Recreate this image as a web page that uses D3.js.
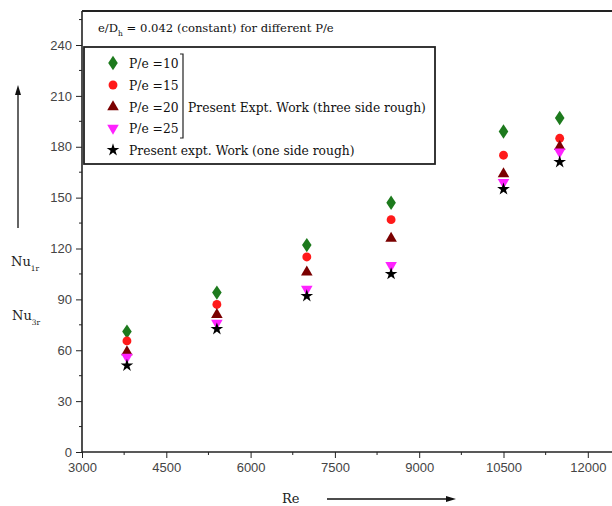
<!DOCTYPE html>
<html><head><meta charset="utf-8">
<script src="https://cdn.jsdelivr.net/npm/d3@7"></script>
<style>body{margin:0;background:#fff}svg{display:block}
.serif{font-family:'DejaVu Serif','Liberation Serif',serif}
.sans{font-family:'Liberation Sans',Arial,sans-serif}</style>
</head><body>
<svg id="c" width="612" height="506"></svg>
<script>
const reValues = [3800, 5400, 7000, 8500, 10500, 11500];
const nuPe10 = [71, 94, 122, 147, 189, 197];
const nuPe15 = [65.5, 87, 115, 137, 175, 185];
const nuPe20 = [59, 81, 106, 126, 164, 180];
const nuPe25 = [56, 76, 96, 110, 159, 177];
const nuOneSide = [51, 72.5, 92, 105, 155, 171];
const xTicks = [3000, 4500, 6000, 7500, 9000, 10500, 12000];
const yTicks = [0, 30, 60, 90, 120, 150, 180, 210, 240];
const seriesNames = ["P/e =10", "P/e =15", "P/e =20", "P/e =25", "Present expt. Work (one side rough)"];

(function () {
const series = [
  {name: seriesNames[0], vals: nuPe10, color: "#1d7a1d", sym: "diamond"},
  {name: seriesNames[1], vals: nuPe15, color: "#ff1a1a", sym: "circle"},
  {name: seriesNames[2], vals: nuPe20, color: "#7a0000", sym: "up"},
  {name: seriesNames[3], vals: nuPe25, color: "#ff22ff", sym: "down"},
  {name: seriesNames[4], vals: nuOneSide, color: "#000000", sym: "star"}
];

const svg = d3.select("#c");
const pl = 82, pt = 11, pb = 452;
const x = d3.scaleLinear().domain([3000, 12500]).range([pl, pl + 9500 / 1500 * 84.3]);
const y = d3.scaleLinear().domain([0, 260]).range([pb, pb - 260 * 407 / 240]);

function symPath(s) {
  const m = {
    diamond: d3.symbol(d3.symbolDiamond, 60),
    circle: d3.symbol(d3.symbolCircle, 62),
    up: d3.symbol(d3.symbolTriangle, 58),
    down: d3.symbol(d3.symbolTriangle, 58),
    star: d3.symbol(d3.symbolStar, 50)
  };
  return m[s]();
}
function drawSym(g, s, cx, cy, color) {
  g.append("path").attr("d", symPath(s))
    .attr("transform", `translate(${cx},${cy})` + (s === "down" ? " rotate(180)" : "") + (s === "diamond" ? " scale(1.15,1)" : ""))
    .attr("fill", color);
}

// frame
svg.append("line").attr("x1", pl).attr("x2", 612).attr("y1", pt).attr("y2", pt).attr("stroke", "#222").attr("stroke-width", 2);

// axes
const xAxis = d3.axisBottom(x).tickValues(xTicks).tickSize(6).tickPadding(5).tickFormat(d3.format("d"));
const gx = svg.append("g").attr("transform", `translate(0,${pb})`).call(xAxis);
const xMinor = d3.range(3750, 12500, 1500);
gx.selectAll(".minor").data(xMinor).enter().append("line").attr("class", "minor").attr("x1", d => x(d)).attr("x2", d => x(d)).attr("y1", 0).attr("y2", 3).attr("stroke", "#222");
const yAxis = d3.axisLeft(y).tickValues(yTicks).tickSize(6).tickPadding(4);
const gy = svg.append("g").attr("transform", `translate(${pl},0)`).call(yAxis);
const yMinor = d3.range(15, 260, 30);
gy.selectAll(".minor").data(yMinor).enter().append("line").attr("class", "minor").attr("y1", d => y(d)).attr("y2", d => y(d)).attr("x1", 0).attr("x2", -3).attr("stroke", "#222");
[gx, gy].forEach(g => {
  g.attr("font-family", null);
  g.select(".domain").attr("stroke", "#222").attr("stroke-width", 1.6);
  g.selectAll(".tick line").attr("stroke", "#222");
  g.selectAll("text").attr("class", "sans").attr("font-size", 13).attr("fill", "#444");
});
gy.select(".domain").attr("d", `M0,${pb}V${pt}`);
gx.select(".domain").attr("d", `M${pl},0H612`);

// points
const gp = svg.append("g");
series.forEach(s => {
  s.vals.forEach((v, i) => drawSym(gp, s.sym, x(reValues[i]), y(v), s.color));
});

// title
const title = svg.append("text").attr("class", "serif").attr("x", 98).attr("y", 32).attr("font-size", 11.6).attr("fill", "#111");
title.append("tspan").text("e/D");
title.append("tspan").attr("font-size", 7.5).attr("dy", 4).text("h");
title.append("tspan").attr("dy", -4).text(" = 0.042 (constant) for different P/e");

// legend
svg.append("rect").attr("x", 84).attr("y", 47).attr("width", 351).attr("height", 117).attr("fill", "none").attr("stroke", "#222").attr("stroke-width", 1.8);
const rowsY = [63, 85, 107, 128, 150];
series.forEach((s, i) => {
  drawSym(svg, s.sym, 113, rowsY[i], s.color);
  svg.append("text").attr("class", "serif").attr("x", 129).attr("y", rowsY[i] + 4.5).attr("font-size", 12.3).attr("fill", "#111").text(s.name);
});
svg.append("path").attr("d", "M180,54H183V138H180").attr("fill", "none").attr("stroke", "#222").attr("stroke-width", 1.2);
svg.append("text").attr("class", "serif").attr("x", 188).attr("y", 111.5).attr("font-size", 12.3).attr("fill", "#111").text("Present Expt. Work (three side rough)");

// y label
const yl1 = svg.append("text").attr("class", "serif").attr("x", 11).attr("y", 266).attr("font-size", 13).attr("fill", "#222");
yl1.append("tspan").text("Nu");
yl1.append("tspan").attr("font-size", 7.5).attr("dy", 5).text("1r");
const yl2 = svg.append("text").attr("class", "serif").attr("x", 12).attr("y", 320).attr("font-size", 13).attr("fill", "#222");
yl2.append("tspan").text("Nu");
yl2.append("tspan").attr("font-size", 7.5).attr("dy", 5).text("3r");
svg.append("line").attr("x1", 18).attr("x2", 18).attr("y1", 228).attr("y2", 92).attr("stroke", "#111").attr("stroke-width", 1.3);
svg.append("path").attr("d", "M18,85L15,95L21,95Z").attr("fill", "#111");

// x label
svg.append("text").attr("class", "serif").attr("x", 282).attr("y", 503).attr("font-size", 13).attr("fill", "#222").text("Re");
svg.append("line").attr("x1", 327).attr("x2", 448).attr("y1", 499).attr("y2", 499).attr("stroke", "#111").attr("stroke-width", 1.3);
svg.append("path").attr("d", "M456,499L446,496L446,502Z").attr("fill", "#111");
})();
</script>
</body></html>
